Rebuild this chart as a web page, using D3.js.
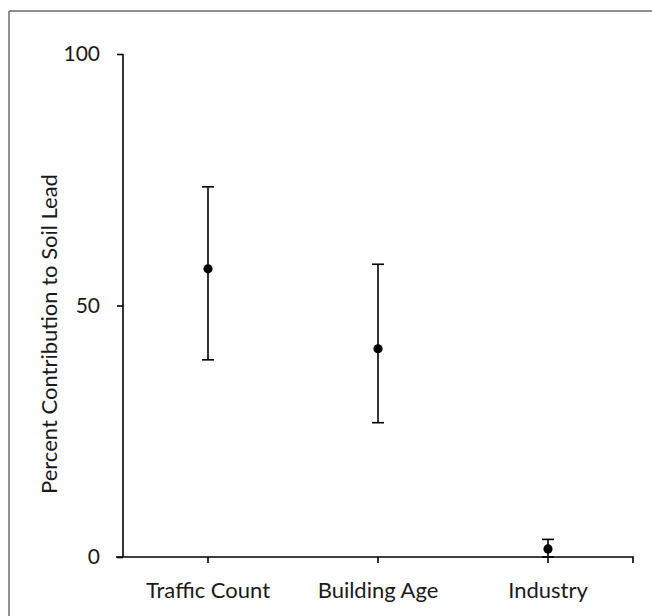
<!DOCTYPE html>
<html>
<head>
<meta charset="utf-8">
<script src="https://cdn.jsdelivr.net/npm/d3@7/dist/d3.min.js"></script>
<style>
  html, body { margin: 0; padding: 0; background: #fff; }
  svg { display: block; }
  text { font-family: Lato, "Liberation Sans", sans-serif; fill: #1a1a1a; }
</style>
</head>
<body>
<svg id="chart" width="652" height="616"></svg>
<script>
const categories = ["Traffic Count", "Building Age", "Industry"];
const means = [57.3, 41.4, 1.6];
const upper = [73.6, 58.2, 3.5];
const lower = [39.2, 26.7, 0.0];
const yTicks = [0, 50, 100];
const yLabel = "Percent Contribution to Soil Lead";

const svg = d3.select("#chart");
const W = 652, H = 616;
const mLeft = 123, mRight = 633, mTop = 54, mBottom = 557;

// frame
svg.append("line").attr("x1", 9).attr("x2", W).attr("y1", 11).attr("y2", 11)
  .attr("stroke", "#6b6b6b").attr("stroke-width", 1.5);
svg.append("line").attr("x1", 9).attr("x2", 9).attr("y1", 11).attr("y2", H)
  .attr("stroke", "#6b6b6b").attr("stroke-width", 1.5);

const x = d3.scaleBand().domain(categories).range([mLeft, mRight]).paddingInner(0).paddingOuter(0);
const y = d3.scaleLinear().domain([0, 100]).range([mBottom, mTop]);

// y axis
const yAxis = svg.append("g").attr("transform", `translate(${mLeft},0)`)
  .call(d3.axisLeft(y).tickValues(yTicks).tickSize(6).tickPadding(17).tickFormat(d3.format("d")));
yAxis.select(".domain").attr("d", `M0,${mTop}V${mBottom}`).attr("stroke", "#000").attr("stroke-width", 1.6);
yAxis.selectAll(".tick line").attr("stroke", "#000").attr("stroke-width", 1.6);
yAxis.selectAll(".tick text").style("font-size", "21px").attr("fill", "#1a1a1a").attr("font-family", "Lato");

// x axis
const xAxis = svg.append("g").attr("transform", `translate(0,${mBottom})`)
  .call(d3.axisBottom(x).tickSize(6).tickPadding(19));
xAxis.select(".domain").attr("d", `M${mLeft - 7},0H${mRight}V6`).attr("stroke", "#000").attr("stroke-width", 1.6).attr("fill", "none");
xAxis.selectAll(".tick line").attr("stroke", "#000").attr("stroke-width", 1.6);
xAxis.selectAll(".tick text").style("font-size", "22px").attr("fill", "#1a1a1a").attr("font-family", "Lato");

// y label
svg.append("text")
  .attr("transform", `translate(57,334) rotate(-90)`)
  .attr("text-anchor", "middle")
  .style("font-size", "22px")
  .text(yLabel);

// error bars
const cx = d => x(d) + x.bandwidth() / 2;
const g = svg.append("g");
categories.forEach((c, i) => {
  g.append("line").attr("x1", cx(c)).attr("x2", cx(c)).attr("y1", y(upper[i])).attr("y2", y(lower[i]))
    .attr("stroke", "#000").attr("stroke-width", 1.6);
  [upper[i], lower[i]].forEach(v => {
    g.append("line").attr("x1", cx(c) - 6).attr("x2", cx(c) + 6).attr("y1", y(v)).attr("y2", y(v))
      .attr("stroke", "#000").attr("stroke-width", 1.6);
  });
  g.append("circle").attr("cx", cx(c)).attr("cy", y(means[i])).attr("r", 4.6).attr("fill", "#000");
});
</script>
</body>
</html>
